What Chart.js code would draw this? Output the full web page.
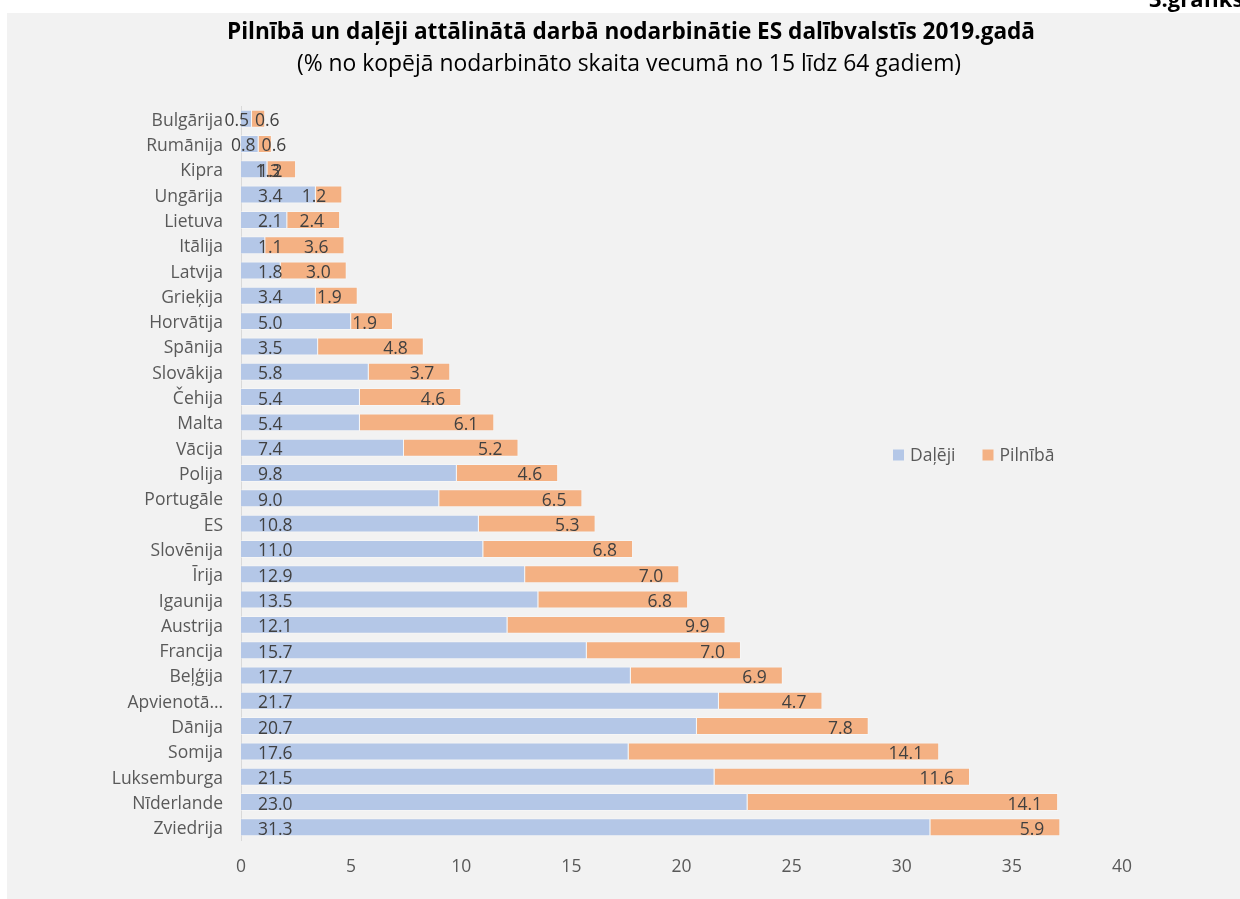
<!DOCTYPE html>
<html>
<head>
<meta charset="utf-8">
<script src="https://cdn.jsdelivr.net/npm/chart.js@4/dist/chart.umd.min.js"></script>
<style>
  html, body { margin: 0; padding: 0; background: #ffffff; }
  #wrap { width: 1240px; height: 899px; position: relative; }
</style>
</head>
<body>
<div id="wrap"><canvas id="c" width="1240" height="899"></canvas></div>
<script>
const categories = [
  "Bulgārija", "Rumānija", "Kipra", "Ungārija", "Lietuva", "Itālija", "Latvija",
  "Grieķija", "Horvātija", "Spānija", "Slovākija", "Čehija", "Malta", "Vācija",
  "Polija", "Portugāle", "ES", "Slovēnija", "Īrija", "Igaunija", "Austrija",
  "Francija", "Beļģija", "Apvienotā…", "Dānija", "Somija", "Luksemburga",
  "Nīderlande", "Zviedrija"
];
const dalejiValues = [
  0.5, 0.8, 1.2, 3.4, 2.1, 1.1, 1.8, 3.4, 5.0, 3.5, 5.8, 5.4, 5.4, 7.4,
  9.8, 9.0, 10.8, 11.0, 12.9, 13.5, 12.1, 15.7, 17.7, 21.7, 20.7, 17.6, 21.5,
  23.0, 31.3
];
const pilnibaValues = [
  0.6, 0.6, 1.3, 1.2, 2.4, 3.6, 3.0, 1.9, 1.9, 4.8, 3.7, 4.6, 6.1, 5.2,
  4.6, 6.5, 5.3, 6.8, 7.0, 6.8, 9.9, 7.0, 6.9, 4.7, 7.8, 14.1, 11.6,
  14.1, 5.9
];
const seriesNames = ["Daļēji", "Pilnībā"];
const xTicks = [0, 5, 10, 15, 20, 25, 30, 35, 40];
const titleText = "Pilnībā un daļēji attālinātā darbā nodarbinātie ES dalībvalstīs 2019.gadā";
const subtitleText = "(% no kopējā nodarbināto skaita vecumā no 15 līdz 64 gadiem)";
const cornerText = "3.grafiks";

const FONT = "'Open Sans', 'Noto Sans', sans-serif";
const BLUE = "#b4c7e7";
const ORANGE = "#f4b183";
const FS = 17.5;

const backgroundPlugin = {
  id: "bg",
  beforeDraw(chart) {
    const ctx = chart.ctx;
    ctx.save();
    ctx.fillStyle = "#ffffff";
    ctx.fillRect(0, 0, chart.width, chart.height);
    ctx.fillStyle = "#f2f2f2";
    ctx.fillRect(7, 13, chart.width - 7, chart.height - 13);
    ctx.restore();
  }
};

const textPlugin = {
  id: "texts",
  afterDraw(chart) {
    const ctx = chart.ctx;
    ctx.save();
    ctx.textAlign = "center";
    ctx.textBaseline = "middle";
    ctx.fillStyle = "#000000";
    ctx.font = "bold 22.6px " + FONT;
    ctx.fillText(titleText, 631, 33);
    ctx.font = "22.9px " + FONT;
    ctx.fillText(subtitleText, 629, 64);
    ctx.textAlign = "left";
    ctx.textBaseline = "alphabetic";
    ctx.font = "bold 22px " + FONT;
    ctx.fillText(cornerText, 1149, 7);
    // legend
    ctx.font = FS + "px " + FONT;
    ctx.textBaseline = "middle";
    const items = chart.data.datasets;
    let lx = 893;
    const ly = 455;
    items.forEach((ds) => {
      ctx.fillStyle = ds.backgroundColor;
      ctx.fillRect(lx, ly - 5.5, 11, 11);
      ctx.fillStyle = "#595959";
      ctx.fillText(ds.label, lx + 17, ly + 1);
      lx += 17 + ctx.measureText(ds.label).width + 27;
    });
    ctx.restore();
  }
};

const labelPlugin = {
  id: "barLabels",
  afterDatasetsDraw(chart) {
    const ctx = chart.ctx;
    ctx.save();
    ctx.font = FS + "px " + FONT;
    ctx.fillStyle = "#404040";
    ctx.textBaseline = "middle";
    chart.data.datasets.forEach((ds, di) => {
      const meta = chart.getDatasetMeta(di);
      meta.data.forEach((bar, i) => {
        const txt = ds.data[i].toFixed(1);
        const start = Math.min(bar.base, bar.x);
        const end = Math.max(bar.base, bar.x);
        const y = bar.y + 2.5;
        if (di === 0) {
          if (start + 21 > end) {
            ctx.textAlign = "right";
            ctx.fillText(txt, end - 3, y);
          } else {
            ctx.textAlign = "left";
            ctx.fillText(txt, start + 17, y);
          }
        } else {
          if (end - 16 < start) {
            ctx.textAlign = "left";
            ctx.fillText(txt, start + 3, y);
          } else {
            ctx.textAlign = "right";
            ctx.fillText(txt, end - 16, y);
          }
        }
      });
    });
    ctx.restore();
  }
};

new Chart(document.getElementById("c"), {
  type: "bar",
  data: {
    labels: categories,
    datasets: [
      { label: seriesNames[0], data: dalejiValues, backgroundColor: BLUE,
        borderColor: "rgba(255,255,255,0.35)", borderWidth: 1,
        barPercentage: 0.71, categoryPercentage: 1 },
      { label: seriesNames[1], data: pilnibaValues, backgroundColor: ORANGE,
        borderColor: "rgba(255,255,255,0.35)", borderWidth: 1,
        barPercentage: 0.71, categoryPercentage: 1 }
    ]
  },
  options: {
    indexAxis: "y",
    responsive: false,
    animation: false,
    layout: { padding: { top: 106, right: 118, left: 0, bottom: 0 } },
    plugins: {
      legend: { display: false },
      title: { display: false },
      tooltip: { enabled: false }
    },
    scales: {
      x: {
        stacked: true,
        min: 0,
        max: 40,
        afterBuildTicks(scale) { scale.ticks = xTicks.map(v => ({ value: v })); },
        afterFit(scale) { scale.height = 59; },
        grid: { display: false, drawTicks: false },
        border: { display: false },
        ticks: { color: "#595959", font: { family: FONT, size: FS }, padding: 17, maxRotation: 0 }
      },
      y: {
        stacked: true,
        afterFit(scale) { scale.width = 241; },
        grid: { display: false, drawTicks: false },
        border: { display: true, color: "#d9d9d9", width: 1 },
        ticks: { color: "#595959", font: { family: FONT, size: FS }, padding: 18, autoSkip: false, labelOffset: 2 }
      }
    }
  },
  plugins: [backgroundPlugin, labelPlugin, textPlugin]
});
</script>
</body>
</html>
